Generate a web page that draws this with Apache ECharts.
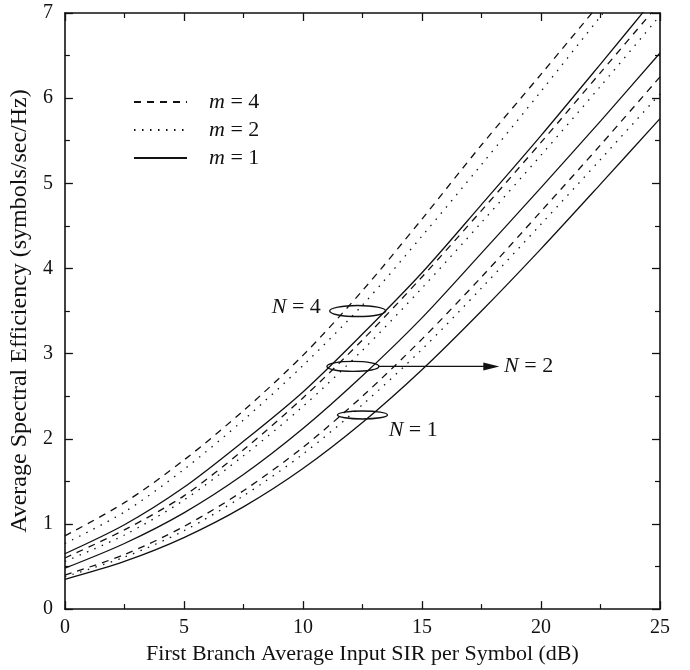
<!DOCTYPE html>
<html>
<head>
<meta charset="utf-8">
<script src="https://cdn.jsdelivr.net/npm/echarts@6/dist/echarts.min.js"></script>
<style>
html,body{margin:0;padding:0;background:#fff;}
#c{width:690px;height:670px;}
</style>
</head>
<body>
<div id="c"></div>
<script>
// ---- data ----
const xVals = [0, 2.5, 5, 7.5, 10, 12.5, 15, 17.5, 20, 22.5, 25];
const N1_m1 = [0.35, 0.56, 0.84, 1.20, 1.65, 2.19, 2.81, 3.50, 4.23, 4.99, 5.76];
const N1_m2 = [0.38, 0.61, 0.92, 1.33, 1.82, 2.40, 3.05, 3.77, 4.52, 5.28, 6.05];
const N1_m4 = [0.40, 0.64, 0.97, 1.39, 1.90, 2.50, 3.17, 3.90, 4.67, 5.45, 6.25];
const N2_m1 = [0.48, 0.77, 1.13, 1.58, 2.12, 2.74, 3.42, 4.18, 4.95, 5.73, 6.53];
const N2_m2 = [0.56, 0.87, 1.28, 1.80, 2.38, 3.04, 3.77, 4.54, 5.33, 6.14, 6.97];
const N2_m4 = [0.60, 0.93, 1.33, 1.87, 2.48, 3.16, 3.90, 4.68, 5.48, 6.30, 7.12];
const N4_m1 = [0.65, 0.99, 1.43, 1.97, 2.55, 3.23, 3.95, 4.75, 5.56, 6.40, 7.25];
const N4_m2 = [0.77, 1.14, 1.64, 2.22, 2.86, 3.57, 4.38, 5.22, 6.08, 6.96, 7.82];
const N4_m4 = [0.86, 1.25, 1.75, 2.33, 2.98, 3.74, 4.58, 5.45, 6.28, 7.12, 7.95];
const legendNames = ['m = 4', 'm = 2', 'm = 1'];
const xTicks = [0, 5, 10, 15, 20, 25];
const yTicks = [0, 1, 2, 3, 4, 5, 6, 7];

const FONT = '"Liberation Serif", "Times New Roman", serif';
const dashStyle = [7, 6];
const dotStyle = [1.5, 6.5];

function pairs(ys) { return xVals.map((x, i) => [x, ys[i]]); }
function mk(name, ys, type) {
  return {
    type: 'line', name: name, data: pairs(ys), smooth: 0.3,
    showSymbol: false, symbol: 'none', clip: true,
    lineStyle: { color: '#111', width: 1.3, type: type },
    itemStyle: { color: '#111' },
    silent: true, animation: false
  };
}

const chart = echarts.init(document.getElementById('c'), null, { renderer: 'canvas' });
const axisLineStyle = { color: '#111', width: 1.6 };
const baseX = {
  type: 'value', min: 0, max: 25, interval: 5,
  axisLine: { show: true, onZero: false, lineStyle: axisLineStyle },
  axisTick: { show: true, inside: true, length: 8, lineStyle: { color: '#111', width: 1.3 } },
  minorTick: { show: true, splitNumber: 2, length: 5, lineStyle: { color: '#111', width: 1.2 } },
  splitLine: { show: false }, minorSplitLine: { show: false }
};
const baseY = {
  type: 'value', min: 0, max: 7, interval: 1,
  axisLine: { show: true, onZero: false, lineStyle: axisLineStyle },
  axisTick: { show: true, inside: true, length: 8, lineStyle: { color: '#111', width: 1.3 } },
  minorTick: { show: true, splitNumber: 2, length: 5, lineStyle: { color: '#111', width: 1.2 } },
  splitLine: { show: false }, minorSplitLine: { show: false }
};

const option = {
  backgroundColor: '#fff',
  animation: false,
  grid: { left: 62, right: 30, top: 13, bottom: 58, containLabel: false },
  xAxis: [
    Object.assign({}, baseX, {
      position: 'bottom',
      axisLabel: { show: true, color: '#111', fontFamily: FONT, fontSize: 20, margin: 9,
        formatter: v => xTicks.includes(v) ? String(v) : '' },
      name: 'First Branch Average Input SIR per Symbol (dB)',
      nameLocation: 'middle', nameGap: 33,
      nameTextStyle: { color: '#111', fontFamily: FONT, fontSize: 22 }
    }),
    Object.assign({}, baseX, { position: 'top', axisLabel: { show: false } })
  ],
  yAxis: [
    Object.assign({}, baseY, {
      position: 'left',
      axisLabel: { show: true, color: '#111', fontFamily: FONT, fontSize: 20, margin: 12,
        formatter: v => yTicks.includes(v) ? String(v) : '' },
      name: 'Average Spectral Efficiency (symbols/sec/Hz)',
      nameLocation: 'middle', nameGap: 29,
      nameTextStyle: { color: '#111', fontFamily: FONT, fontSize: 24 }
    }),
    Object.assign({}, baseY, { position: 'right', axisLabel: { show: false } })
  ],
  legend: {
    data: legendNames,
    orient: 'vertical', left: 128, top: 86,
    itemWidth: 53, itemHeight: 14, itemGap: 6,
    itemStyle: { opacity: 0, borderWidth: 0 },
    textStyle: {
      color: '#111', fontFamily: FONT, fontSize: 22,
      rich: {
        i: { fontStyle: 'italic', fontFamily: FONT, fontSize: 22, color: '#111', padding: [0, 0, 0, 17] },
        n: { fontFamily: FONT, fontSize: 22, color: '#111' }
      }
    },
    formatter: function (name) { return '{i|m}{n|' + name.slice(1) + '}'; },
    selectedMode: false
  },
  series: [
    mk('m = 4', N4_m4, dashStyle),
    mk('m = 2', N4_m2, dotStyle),
    mk('m = 1', N4_m1, 'solid'),
    mk('m = 4', N2_m4, dashStyle),
    mk('m = 2', N2_m2, dotStyle),
    mk('m = 1', N2_m1, 'solid'),
    mk('m = 4', N1_m4, dashStyle),
    mk('m = 2', N1_m2, dotStyle),
    mk('m = 1', N1_m1, 'solid')
  ]
};
chart.setOption(option);

// ---- annotations (ellipses, arrow, N labels) placed in data coordinates ----
function px(p) { return chart.convertToPixel({ xAxisIndex: 0, yAxisIndex: 0 }, p); }
const ell4 = px([12.3, 3.5]);
const ell2 = px([12.1, 2.85]);
const ell1 = px([12.5, 2.28]);
const arrowEnd = px([18.25, 2.85]);
const lab4 = px([10.75, 3.55]);
const lab2 = px([18.45, 2.85]);
const lab1 = px([13.6, 2.1]);
const richN = {
  i: { fontStyle: 'italic', fontFamily: FONT, fontSize: 22, fill: '#111' },
  n: { fontFamily: FONT, fontSize: 22, fill: '#111' }
};
const ellStyle = { fill: 'none', stroke: '#111', lineWidth: 1.4 };
chart.setOption({
  graphic: [
    { type: 'ellipse', shape: { cx: ell4[0], cy: ell4[1], rx: 28, ry: 5.5 }, style: ellStyle, silent: true },
    { type: 'ellipse', shape: { cx: ell2[0], cy: ell2[1], rx: 26, ry: 5 }, style: ellStyle, silent: true },
    { type: 'ellipse', shape: { cx: ell1[0], cy: ell1[1], rx: 25, ry: 4 }, style: ellStyle, silent: true },
    { type: 'line', shape: { x1: ell2[0] + 26, y1: ell2[1], x2: arrowEnd[0] - 12, y2: arrowEnd[1] },
      style: { stroke: '#111', lineWidth: 1.2 }, silent: true },
    { type: 'polygon', shape: { points: [[arrowEnd[0], arrowEnd[1]], [arrowEnd[0] - 16, arrowEnd[1] - 4], [arrowEnd[0] - 16, arrowEnd[1] + 4]] },
      style: { fill: '#111' }, silent: true },
    { type: 'text', x: lab4[0], y: lab4[1], silent: true,
      style: { text: '{i|N}{n| = 4}', rich: richN, align: 'right', verticalAlign: 'middle' } },
    { type: 'text', x: lab2[0], y: lab2[1], silent: true,
      style: { text: '{i|N}{n| = 2}', rich: richN, align: 'left', verticalAlign: 'middle' } },
    { type: 'text', x: lab1[0], y: lab1[1], silent: true,
      style: { text: '{i|N}{n| = 1}', rich: richN, align: 'left', verticalAlign: 'middle' } }
  ]
});
</script>
</body>
</html>
